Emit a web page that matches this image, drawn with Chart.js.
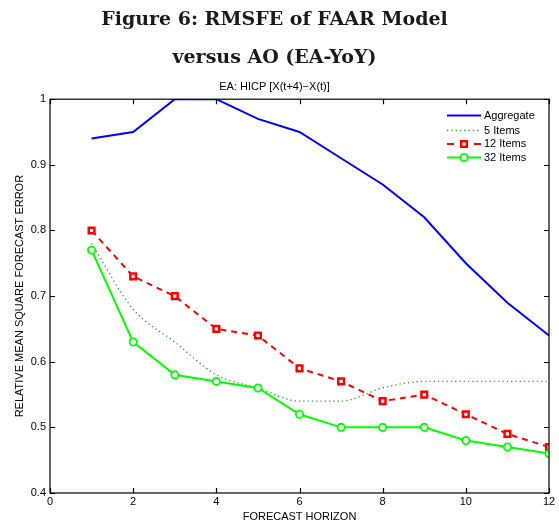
<!DOCTYPE html>
<html>
<head>
<meta charset="utf-8">
<title>RMSFE of FAAR Model versus AO</title>
<script src="https://cdn.jsdelivr.net/npm/chart.js@4.4.1/dist/chart.umd.min.js"></script>
<style>
  html, body { margin: 0; padding: 0; background: #fff; }
  #wrap { width: 559px; height: 524px; }
</style>
</head>
<body>
<div id="wrap"><canvas id="rmsfe"></canvas></div>
<script>
// Forecast horizons and relative MSFE per model
const horizons  = [1, 2, 3, 4, 5, 6, 7, 8, 9, 10, 11, 12];
const aggregate = [0.94, 0.95, 1.00, 1.00, 0.97, 0.95, 0.91, 0.87, 0.82, 0.75, 0.69, 0.64];
const items5    = [0.78, 0.68, 0.63, 0.58, 0.56, 0.54, 0.54, 0.56, 0.57, 0.57, 0.57, 0.57];
const items12   = [0.80, 0.73, 0.70, 0.65, 0.64, 0.59, 0.57, 0.54, 0.55, 0.52, 0.49, 0.47];
const items32   = [0.77, 0.63, 0.58, 0.57, 0.56, 0.52, 0.50, 0.50, 0.50, 0.48, 0.47, 0.46];

const xTicks = [0, 2, 4, 6, 8, 10, 12];
const yTicks = [0.4, 0.5, 0.6, 0.7, 0.8, 0.9, 1.0];

const SANS = '"Liberation Sans", Arial, sans-serif';
const pts  = arr => arr.map((v, i) => ({ x: horizons[i], y: v }));

// MATLAB-style box: full frame with inward ticks on all four sides
const boxFrame = {
  id: 'boxFrame',
  afterDatasetsDraw(chart) {
    const { ctx, chartArea: a, scales: { x, y } } = chart;
    const tl = 5;
    ctx.save();
    ctx.strokeStyle = '#000';
    ctx.lineWidth = 1.2;
    ctx.strokeRect(a.left, a.top, a.right - a.left, a.bottom - a.top);
    ctx.beginPath();
    xTicks.forEach(v => {
      const px = Math.round(x.getPixelForValue(v)) + 0.5;
      ctx.moveTo(px, a.bottom); ctx.lineTo(px, a.bottom - tl);
      ctx.moveTo(px, a.top);    ctx.lineTo(px, a.top + tl);
    });
    yTicks.forEach(v => {
      const py = Math.round(y.getPixelForValue(v)) + 0.5;
      ctx.moveTo(a.left, py);  ctx.lineTo(a.left + tl, py);
      ctx.moveTo(a.right, py); ctx.lineTo(a.right - tl, py);
    });
    ctx.stroke();
    ctx.restore();
  }
};

// legend rows: line sample with the marker in the middle, label on the right
const lineLegend = {
  id: 'lineLegend',
  afterDraw(chart) {
    const { ctx } = chart;
    const x0 = 447, x1 = 481, rowY = [115.5, 130.5, 144, 157.5];
    ctx.save();
    chart.data.datasets.forEach((ds, i) => {
      const yy = rowY[i];
      ctx.strokeStyle = ds.borderColor;
      ctx.lineWidth = ds.borderWidth;
      // dashed sample: one dash on each side of the marker
      const dash = ds.borderDash ? (ds.pointRadius > 0 ? [7, 20] : ds.borderDash) : [];
      ctx.setLineDash(dash);
      ctx.beginPath();
      ctx.moveTo(x0, yy); ctx.lineTo(x1, yy);
      ctx.stroke();
      ctx.setLineDash([]);
      if (ds.pointRadius > 0) {
        ctx.fillStyle = ds.pointBackgroundColor;
        ctx.strokeStyle = ds.borderColor;
        ctx.lineWidth = ds.pointBorderWidth;
        Chart.helpers.drawPoint(ctx, {
          pointStyle: ds.pointStyle, radius: ds.pointRadius,
          borderWidth: ds.pointBorderWidth, rotation: 0
        }, (x0 + x1) / 2, yy);
      }
      ctx.fillStyle = '#000';
      ctx.font = '11px ' + SANS;
      ctx.textAlign = 'left';
      ctx.textBaseline = 'middle';
      ctx.fillText(ds.label, x1 + 3, yy);
    });
    ctx.restore();
  }
};

new Chart(document.getElementById('rmsfe'), {
  type: 'line',
  data: {
    datasets: [
      { label: 'Aggregate', data: pts(aggregate), borderColor: '#0000ff', borderWidth: 2,
        pointRadius: 0, order: 3 },
      { label: '5 Items', data: pts(items5), borderColor: '#2e9e2e', borderWidth: 1.3,
        borderDash: [1.3, 3], cubicInterpolationMode: 'monotone', pointRadius: 0, order: 2 },
      { label: '12 Items', data: pts(items12), borderColor: '#ff0000', borderWidth: 2,
        borderDash: [6, 5], pointStyle: 'rect', pointRadius: 4, pointBorderWidth: 2.5,
        pointBackgroundColor: '#fff', order: 1 },
      { label: '32 Items', data: pts(items32), borderColor: '#00ff00', borderWidth: 2,
        pointStyle: 'circle', pointRadius: 3.6, pointBorderWidth: 1.8,
        pointBackgroundColor: '#fff', order: 0 }
    ]
  },
  options: {
    responsive: true, maintainAspectRatio: false, animation: false,
    layout: { padding: { left: 0, right: 10, top: 0, bottom: 0 } },
    plugins: {
      legend: { display: false },
      tooltip: { enabled: false },
      title: {
        display: true,
        text: ['Figure 6: RMSFE of FAAR Model', 'versus AO (EA-YoY)'],
        color: '#1a1a1a',
        font: { family: '"DejaVu Serif", serif', weight: 'bold', size: 19, lineHeight: 2.0 },
        padding: { top: 1, bottom: 3 }
      },
      subtitle: {
        display: true,
        text: 'EA: HICP [X(t+4)\u2212X(t)]',
        color: '#000',
        font: { family: SANS, size: 11, lineHeight: 1.2 },
        padding: { top: 0, bottom: 6 }
      }
    },
    scales: {
      x: {
        type: 'linear', min: 0, max: 12,
        grid: { display: false, drawTicks: false },
        border: { display: false },
        afterBuildTicks: s => { s.ticks = xTicks.map(v => ({ value: v })); },
        ticks: { color: '#000', font: { family: SANS, size: 11 }, padding: 2, maxRotation: 0 },
        title: { display: true, text: 'FORECAST HORIZON', color: '#000',
                 font: { family: SANS, size: 11 }, padding: { top: 0, bottom: 0 } },
        afterFit: s => { s.height = 31; }
      },
      y: {
        min: 0.4, max: 1,
        grid: { display: false, drawTicks: false },
        border: { display: false },
        afterBuildTicks: s => { s.ticks = yTicks.map(v => ({ value: v })); },
        ticks: { color: '#000', font: { family: SANS, size: 11 }, padding: 4,
                 callback: v => String(+v.toFixed(1)) },
        title: { display: true, text: 'RELATIVE MEAN SQUARE FORECAST ERROR', color: '#000',
                 font: { family: SANS, size: 11 }, padding: { top: 13, bottom: 0 } },
        afterFit: s => { s.width = 50; }
      }
    }
  },
  plugins: [boxFrame, lineLegend]
});
</script>
</body>
</html>
